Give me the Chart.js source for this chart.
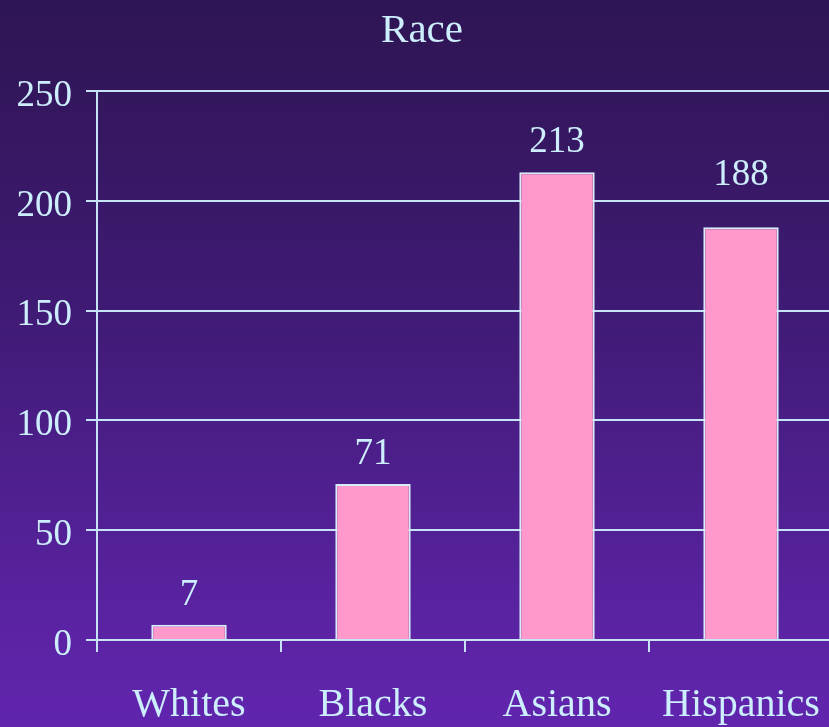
<!DOCTYPE html>
<html>
<head>
<meta charset="utf-8">
<script src="https://cdn.jsdelivr.net/npm/chart.js@4/dist/chart.umd.min.js"></script>
<style>
  html, body { margin: 0; padding: 0; overflow: hidden; width: 829px; height: 727px; }
  body { background: linear-gradient(to bottom, #2e1553 0%, #3e1a72 40%, #5a23a2 85%, #6125ae 100%); }
  #wrap { position: absolute; left: 0; top: 0; width: 833px; height: 727px; }
</style>
</head>
<body>
<div id="wrap"><canvas id="c" width="833" height="727"></canvas></div>
<script>
const categories = ["Whites", "Blacks", "Asians", "Hispanics"];
const values = [7, 71, 213, 188];
const yTicks = [0, 50, 100, 150, 200, 250];
const titleText = "Race";

const ink = "#cdeefc";
const lineCol = "#c6e4f6";
const serif = "'Liberation Serif', 'Times New Roman', serif";
// extra vertical lift (px) for each value label, style only
const labelLift = [0, 0, 0, 22];

const valueLabels = {
  id: "valueLabels",
  afterDatasetsDraw(chart) {
    const ctx = chart.ctx;
    const meta = chart.getDatasetMeta(0);
    ctx.save();
    ctx.fillStyle = ink;
    ctx.font = "37px " + serif;
    ctx.textAlign = "center";
    ctx.textBaseline = "alphabetic";
    meta.data.forEach((bar, i) => {
      ctx.fillText(String(values[i]), bar.x, bar.y - 20 - labelLift[i]);
    });
    ctx.restore();
  }
};

const titleDraw = {
  id: "titleDraw",
  afterDraw(chart) {
    const ctx = chart.ctx;
    ctx.save();
    ctx.fillStyle = ink;
    ctx.font = "41px " + serif;
    ctx.textAlign = "center";
    ctx.textBaseline = "alphabetic";
    ctx.fillText(titleText, 422, 42);
    ctx.restore();
  }
};

new Chart(document.getElementById("c"), {
  type: "bar",
  data: {
    labels: categories,
    datasets: [{
      data: values,
      backgroundColor: "#ff99cc",
      borderColor: "#d6eefb",
      borderWidth: 2,
      barPercentage: 0.41,
      categoryPercentage: 1.0
    }]
  },
  options: {
    responsive: false,
    animation: false,
    layout: { padding: { left: 0, right: 0, top: 91, bottom: 0 } },
    plugins: {
      legend: { display: false },
      tooltip: { enabled: false },
      title: { display: false }
    },
    scales: {
      x: {
        offset: true,
        grid: { display: true, drawOnChartArea: false, drawTicks: true, tickLength: 12, color: lineCol, lineWidth: 2, offset: true },
        border: { display: true, color: lineCol, width: 2 },
        ticks: { color: ink, font: { family: serif, size: 40 }, padding: 29, maxRotation: 0, autoSkip: false },
        afterFit(s) { s.height = 87; s.paddingLeft = 0; s.paddingRight = 0; }
      },
      y: {
        min: 0, max: 250,
        afterBuildTicks(s) { s.ticks = yTicks.map(v => ({ value: v })); },
        grid: { display: true, drawOnChartArea: true, drawTicks: true, tickLength: 11, color: lineCol, lineWidth: 2 },
        border: { display: true, color: lineCol, width: 2 },
        ticks: { color: ink, font: { family: serif, size: 37 }, padding: 14, labelOffset: 5 },
        afterFit(s) { s.width = 97; s.paddingTop = 0; s.paddingBottom = 0; }
      }
    }
  },
  plugins: [valueLabels, titleDraw]
});
</script>
</body>
</html>
